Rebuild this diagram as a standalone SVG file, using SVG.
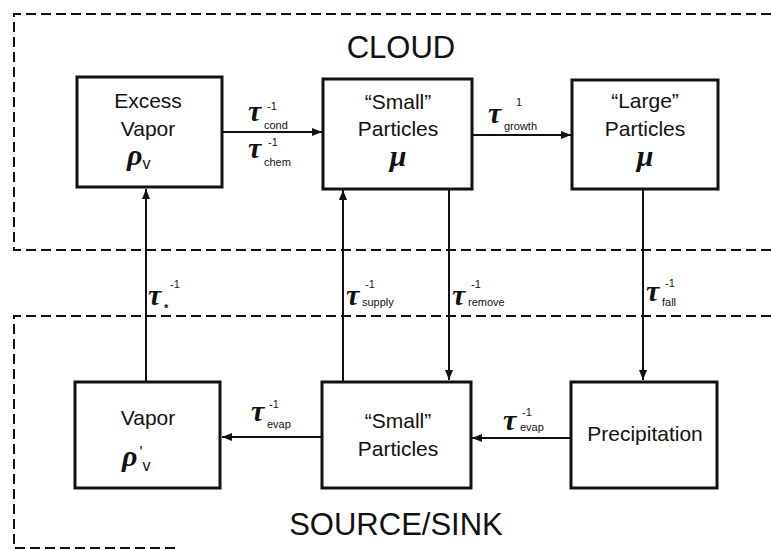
<svg xmlns="http://www.w3.org/2000/svg" width="771" height="550" viewBox="0 0 771 550">
<style>
  .region { fill: none; stroke: #111; stroke-width: 2; stroke-dasharray: 10 5; }
  .box { fill: #fff; stroke: #111; stroke-width: 3; }
  .lbl { font-family: "Liberation Sans", Arial, sans-serif; font-size: 21px; fill: #111; text-anchor: middle; }
  .title { font-family: "Liberation Sans", Arial, sans-serif; font-size: 31px; fill: #111; text-anchor: middle; }
  .sym { font-family: "Liberation Serif", "DejaVu Serif", serif; font-weight: bold; font-style: italic; font-size: 30px; fill: #111; }
  .vsub { font-family: "Liberation Sans", Arial, sans-serif; font-size: 16px; font-style: normal; font-weight: normal; fill: #111; }
  .sub { font-family: "Liberation Sans", Arial, sans-serif; font-size: 11px; fill: #111; }
  .sup { font-family: "Liberation Sans", Arial, sans-serif; font-size: 11px; fill: #111; }
  .tau { font-family: "Liberation Serif", "DejaVu Serif", serif; font-weight: bold; font-style: italic; font-size: 30px; fill: #111; }
  .conn { fill: none; stroke: #111; stroke-width: 2; }
</style>
<defs>
  <marker id="arr" viewBox="0 0 10 8" refX="10" refY="4" markerWidth="10" markerHeight="8" markerUnits="userSpaceOnUse" orient="auto">
    <path d="M0,0 L10,4 L0,8 Z" fill="#111"/>
  </marker>
</defs>

<g id="regions">
  <path class="region" d="M771 14 H14 V250 H771"/>
  <path class="region" d="M771 316 H14 V548 H180"/>
  <text class="title" x="401" y="58">CLOUD</text>
  <text class="title" x="396" y="535">SOURCE/SINK</text>
</g>

<g id="connectors">
  <line class="conn" x1="223" y1="132" x2="322" y2="132" marker-end="url(#arr)"/>
  <line class="conn" x1="472" y1="135" x2="571" y2="135" marker-end="url(#arr)"/>
  <line class="conn" x1="146" y1="381" x2="146" y2="189" marker-end="url(#arr)"/>
  <line class="conn" x1="343" y1="381" x2="343" y2="190" marker-end="url(#arr)"/>
  <line class="conn" x1="449" y1="190" x2="449" y2="380" marker-end="url(#arr)"/>
  <line class="conn" x1="643" y1="190" x2="643" y2="380" marker-end="url(#arr)"/>
  <line class="conn" x1="322" y1="437" x2="222" y2="437" marker-end="url(#arr)"/>
  <line class="conn" x1="571" y1="438" x2="472" y2="438" marker-end="url(#arr)"/>

  <g id="lbl-cond"><text class="tau" x="248" y="121">τ</text><text class="sup" x="267" y="110">-1</text><text class="sub" x="264" y="129">cond</text></g>
  <g id="lbl-chem"><text class="tau" x="248" y="158">τ</text><text class="sup" x="268" y="146">-1</text><text class="sub" x="264" y="166">chem</text></g>
  <g id="lbl-growth"><text class="tau" x="488" y="123">τ</text><text class="sup" x="516" y="106">1</text><text class="sub" x="504" y="130">growth</text></g>
  <g id="lbl-star"><text class="tau" x="148" y="305">τ</text><text class="sup" x="170" y="288">-1</text><text class="sub" x="164" y="312" font-weight="bold" font-size="14">*</text></g>
  <g id="lbl-supply"><text class="tau" x="346" y="305">τ</text><text class="sup" x="365" y="288">-1</text><text class="sub" x="362" y="306">supply</text></g>
  <g id="lbl-remove"><text class="tau" x="452" y="305">τ</text><text class="sup" x="471" y="288">-1</text><text class="sub" x="468" y="306">remove</text></g>
  <g id="lbl-fall"><text class="tau" x="646" y="301">τ</text><text class="sup" x="665" y="287">-1</text><text class="sub" x="662" y="306">fall</text></g>
  <g id="lbl-evap1"><text class="tau" x="251" y="421">τ</text><text class="sup" x="269" y="408">-1</text><text class="sub" x="267" y="428">evap</text></g>
  <g id="lbl-evap2"><text class="tau" x="503" y="430">τ</text><text class="sup" x="522" y="416">-1</text><text class="sub" x="520" y="431">evap</text></g>
</g>

<g id="node-excess-vapor">
  <rect class="box" x="77" y="77" width="145" height="110"/>
  <text class="lbl" x="148" y="108">Excess</text>
  <text class="lbl" x="148" y="136">Vapor</text>
  <text x="127" y="165" class="sym">ρ<tspan class="vsub" dy="4">v</tspan></text>
</g>

<g id="node-small-cloud">
  <rect class="box" x="323" y="79" width="149" height="110"/>
  <text class="lbl" x="398" y="109">“Small”</text>
  <text class="lbl" x="398" y="136">Particles</text>
  <text class="sym" x="398" y="166" text-anchor="middle">μ</text>
</g>

<g id="node-large">
  <rect class="box" x="572" y="80" width="146" height="109"/>
  <text class="lbl" x="645" y="108">“Large”</text>
  <text class="lbl" x="645" y="136">Particles</text>
  <text class="sym" x="645" y="166" text-anchor="middle">μ</text>
</g>

<g id="node-vapor">
  <rect class="box" x="75" y="382" width="145" height="106"/>
  <text class="lbl" x="148" y="425">Vapor</text>
  <text x="122" y="466" class="sym">ρ<tspan class="vsub" font-weight="bold" dx="2" dy="-8">'</tspan><tspan class="vsub" dy="13">v</tspan></text>
</g>

<g id="node-small-source">
  <rect class="box" x="322" y="382" width="149" height="106"/>
  <text class="lbl" x="398" y="428">“Small”</text>
  <text class="lbl" x="398" y="456">Particles</text>
</g>

<g id="node-precipitation">
  <rect class="box" x="571" y="382" width="146" height="106"/>
  <text class="lbl" x="645" y="441">Precipitation</text>
</g>
</svg>
